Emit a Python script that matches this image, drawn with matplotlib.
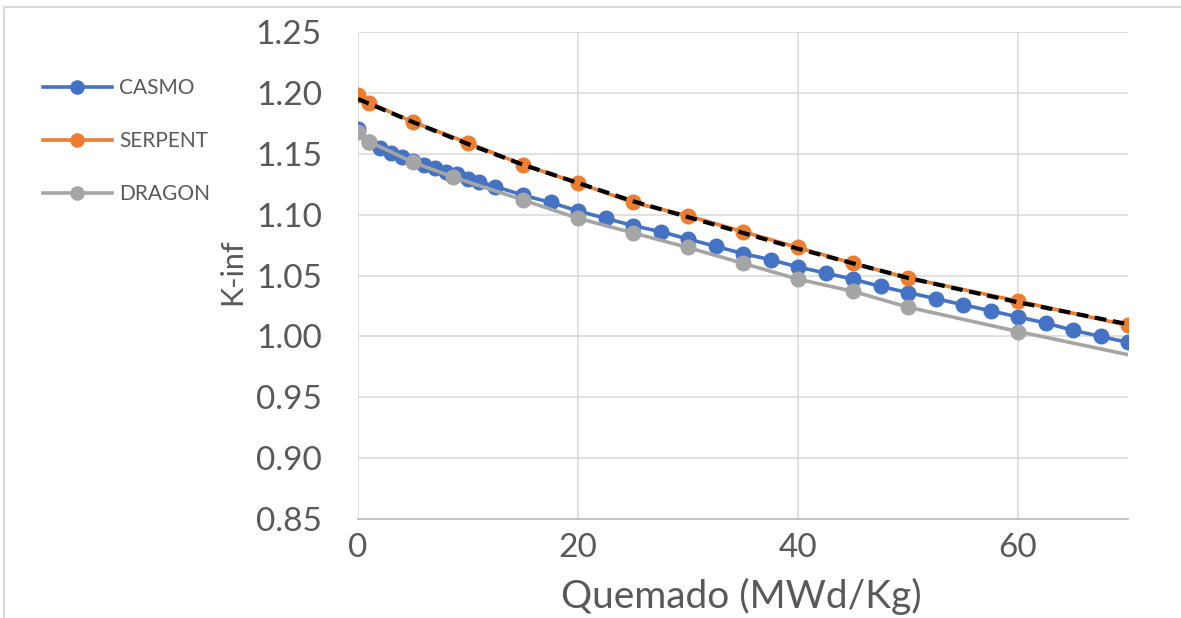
import matplotlib
matplotlib.use("Agg")
import matplotlib.pyplot as plt
from matplotlib.lines import Line2D

plt.rcParams['font.family'] = ['Lato', 'DejaVu Sans']

# ---- data ----
casmo_x = [0, 1, 2, 3, 4, 5, 6, 7, 8, 9, 10, 11, 12.5, 15, 17.5, 20, 22.5, 25, 27.5, 30,
           32.5, 35, 37.5, 40, 42.5, 45, 47.5, 50, 52.5, 55, 57.5, 60, 62.5, 65, 67.5, 70]
casmo_y = [1.170, 1.160, 1.155, 1.151, 1.147, 1.144, 1.141, 1.138, 1.135, 1.133, 1.129,
           1.127, 1.123, 1.116, 1.110, 1.103, 1.097, 1.091, 1.086, 1.080, 1.074, 1.068,
           1.063, 1.057, 1.052, 1.047, 1.041, 1.036, 1.031, 1.026, 1.021, 1.016, 1.011,
           1.005, 1.000, 0.995]

serpent_x = [0, 1, 5, 10, 15, 20, 25, 30, 35, 40, 45, 50, 60, 70]
serpent_y = [1.198, 1.192, 1.176, 1.159, 1.141, 1.126, 1.110, 1.099, 1.086, 1.073,
             1.060, 1.048, 1.029, 1.009]

dragon_x = [0, 1, 5, 8.6, 15, 20, 25, 30, 35, 40, 45, 50, 60, 70]
dragon_y = [1.168, 1.160, 1.143, 1.131, 1.112, 1.097, 1.085, 1.073, 1.060, 1.047,
            1.037, 1.024, 1.004, 0.985]
dragon_markers = list(range(13))  # last point drawn without marker

fit_x = [0, 5, 10, 15, 20, 25, 30, 35, 40, 45, 50, 55, 60, 65, 70]
fit_y = [1.195, 1.176, 1.158, 1.141, 1.126, 1.111, 1.098, 1.085, 1.072, 1.060,
         1.048, 1.038, 1.028, 1.019, 1.010]

xticks = [0, 20, 40, 60]
yticks = [0.85, 0.90, 0.95, 1.00, 1.05, 1.10, 1.15, 1.20, 1.25]
xlabel = "Quemado (MWd/Kg)"
ylabel = "K-inf"

# ---- figure ----
W, H = 1181, 618
fig = plt.figure(figsize=(W / 100, H / 100), dpi=100)
ax = fig.add_axes([358 / W, 1 - 519 / H, (1128 - 358) / W, (519 - 32) / H])

tc = '#595959'
c_casmo, c_serp, c_drag = '#4472C4', '#ED7D31', '#A5A5A5'

l1, = ax.plot(casmo_x, casmo_y, color=c_casmo, lw=2.6, marker='o', ms=10.5,
              label='CASMO', zorder=3)
l2, = ax.plot(serpent_x, serpent_y, color=c_serp, lw=2.6, marker='o', ms=10.5,
              label='SERPENT', zorder=4)
l3, = ax.plot(dragon_x, dragon_y, color=c_drag, lw=2.6, marker='o', ms=10.5,
              markevery=dragon_markers, label='DRAGON', zorder=4)
ax.plot(fit_x, fit_y, color='black', lw=3.0, dashes=(2.8, 1.6), zorder=5)

ax.set_xlim(0, 70)
ax.set_ylim(0.85, 1.25)
ax.set_xticks(xticks)
ax.set_yticks(yticks)
ax.set_yticklabels([f"{v:.2f}" for v in yticks])
ax.grid(True, color='#D9D9D9', lw=1.1)
ax.set_axisbelow(True)
for s in ['top', 'right', 'left']:
    ax.spines[s].set_visible(False)
ax.spines['bottom'].set_color('#BFBFBF')
ax.spines['bottom'].set_linewidth(1.3)
ax.tick_params(axis='both', length=0, labelsize=24, labelcolor=tc)
ax.tick_params(axis='y', pad=26)
ax.tick_params(axis='x', pad=10)

fig.text(741 / W, 1 - 596 / H, xlabel, ha='center', va='center', fontsize=28, color=tc)
fig.text(232 / W, 1 - 272 / H, ylabel, ha='center', va='center', fontsize=22,
         color=tc, rotation=90)

fig.legend(handles=[l1, l2, l3], loc='upper left',
           bbox_to_anchor=(43 / W, 1 - 78 / H), frameon=False, fontsize=15,
           labelcolor=tc, handlelength=3.3, handletextpad=0.35, labelspacing=1.58,
           borderpad=0, borderaxespad=0, numpoints=1, markerscale=0.9)

# chart-area border
fig.add_artist(Line2D([4 / W, 1], [1 - 7 / H, 1 - 7 / H], transform=fig.transFigure,
                      color='#D9D9D9', lw=1.5))
fig.add_artist(Line2D([4 / W, 4 / W], [1 - 7 / H, 0], transform=fig.transFigure,
                      color='#D9D9D9', lw=1.5))

fig.savefig('out.png', dpi=100)
